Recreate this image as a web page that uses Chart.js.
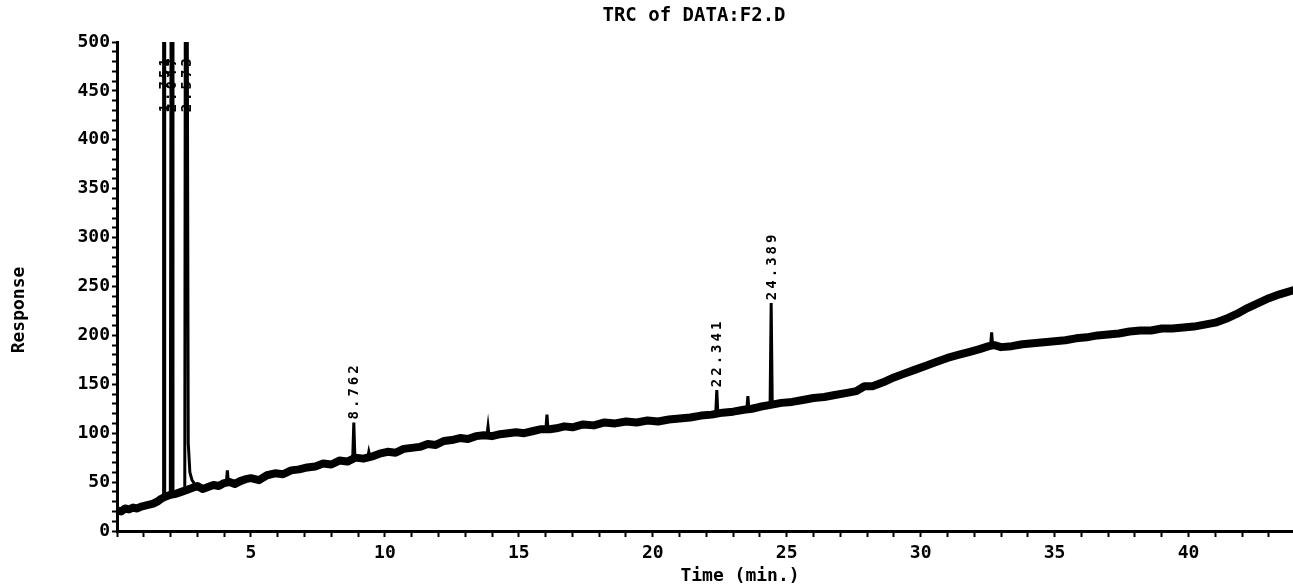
<!DOCTYPE html>
<html>
<head>
<meta charset="utf-8">
<script src="https://cdn.jsdelivr.net/npm/chart.js@4.4.1/dist/chart.umd.min.js"></script>
<style>
html,body{margin:0;padding:0;background:#fff;}
#wrap{width:1293px;height:586px;position:relative;}
</style>
</head>
<body>
<div id="wrap"><canvas id="c"></canvas></div>
<script>
// ---- data ----
const chartTitle = "TRC of DATA:F2.D";
const xAxisTitle = "Time (min.)";
const yAxisTitle = "Response";

const traceTime = [0.00,0.15,0.30,0.45,0.60,0.75,0.90,1.05,1.20,1.35,1.50,1.65,1.80,2.00,2.20,2.40,2.60,2.80,3.00,3.20,3.40,3.60,3.80,4.00,4.20,4.40,4.60,4.80,5.00,5.30,5.60,5.90,6.20,6.50,6.80,7.10,7.40,7.70,8.00,8.30,8.60,8.90,9.20,9.50,9.80,10.10,10.40,10.70,11.00,11.30,11.60,11.90,12.20,12.50,12.80,13.10,13.40,13.70,14.00,14.30,14.60,14.90,15.20,15.50,15.80,16.15,16.40,16.70,17.00,17.40,17.80,18.20,18.60,19.00,19.40,19.80,20.20,20.60,21.00,21.40,21.80,22.20,22.60,23.00,23.40,23.70,24.00,24.40,24.80,25.20,25.60,26.00,26.40,26.80,27.20,27.60,27.90,28.20,28.60,29.00,29.40,29.80,30.20,30.60,31.00,31.40,31.80,32.20,32.55,32.75,33.00,33.40,33.80,34.20,34.60,35.00,35.40,35.80,36.20,36.60,37.00,37.40,37.80,38.20,38.60,39.00,39.40,39.80,40.20,40.60,41.00,41.40,41.80,42.20,42.60,43.00,43.40,43.90];
const traceResp = [21,20,23,22,24,23,25,26,27,28,30,33,35,37,38,40,42,44,46,43,45,47,46,49,50,48,51,53,54,52,57,59,58,62,63,65,66,69,68,72,71,75,74,76,79,81,80,84,85,86,89,88,92,93,95,94,97,98,97,99,100,101,100,102,104,104,105,107,106,109,108,111,110,112,111,113,112,114,115,116,118,119,121,122,124,125,127,129,131,132,134,136,137,139,141,143,148,148,152,157,161,165,169,173,177,180,183,186,189,190,188,189,191,192,193,194,195,197,198,200,201,202,204,205,205,207,207,208,209,211,213,217,222,228,233,238,242,246];

// narrow peaks (null = gap between peaks); 560 is off-scale (clipped)
const peakTime = [1.72,1.74,1.76,1.78,null,1.99,2.02,2.06,2.09,null,2.53,2.55,2.62,2.66,2.72,2.80,2.95,null,4.08,4.12,4.16,null,9.36,9.40,9.44,null,13.81,13.85,13.89,null,16.01,16.05,16.09,null,22.35,22.39,22.43,null,23.51,23.55,23.59,null,24.38,24.42,24.46,null,32.61,32.65,32.69,null,8.80,8.84,8.88];
const peakResp = [33,560,560,34,null,37,560,560,38,null,41,560,560,90,60,52,46,null,49,62,49,null,75,81,76,null,98,107,97,null,104,119,104,null,119,144,120,null,124,138,125,null,129,233,130,null,189,203,189,null,75,111,75];

// retention-time annotations printed above the peaks
const annTime  = [1.75, 2.04, 2.58, 8.84, 22.39, 24.42];
const annText  = ["1.751","2.047","2.573","8.762","22.341","24.389"];
const annBase  = [425, 425, 425, 111, 144, 233];

const yTickStep = 10, yLabelStep = 50, yMax = 500;
const xTickStep = 1, xLabelStep = 5, xMax = 43.9;

const FONT = "'DejaVu Sans Mono', monospace";

const textPlugin = {
  id: 'texts',
  afterDraw(chart) {
    const ctx = chart.ctx, xs = chart.scales.x, ys = chart.scales.y;
    ctx.save();
    ctx.fillStyle = '#000';
    ctx.font = "bold 19px " + FONT;
    ctx.textAlign = 'center'; ctx.textBaseline = 'middle';
    ctx.fillText(chartTitle, 694, 16);
    ctx.font = "bold 18px " + FONT;
    ctx.fillText(xAxisTitle, 740, 576);
    ctx.save();
    ctx.translate(19, 310); ctx.rotate(-Math.PI/2);
    ctx.fillText(yAxisTitle, 0, 0);
    ctx.restore();
    // peak annotations, rotated, reading bottom-to-top
    ctx.font = "bold 14px " + FONT;
    try { ctx.letterSpacing = '3px'; } catch(e) {}
    ctx.textAlign = 'left';
    for (let i = 0; i < annTime.length; i++) {
      const px = xs.getPixelForValue(annTime[i]);
      const py = ys.getPixelForValue(annBase[i]) - 3;
      ctx.save();
      ctx.translate(px, py); ctx.rotate(-Math.PI/2);
      ctx.fillText(annText[i], 0, 1);
      ctx.restore();
    }
    ctx.restore();
  }
};

new Chart(document.getElementById('c'), {
  type: 'line',
  data: {
    datasets: [
      {
        data: traceTime.map((t,i)=>({x:t, y:traceResp[i]})),
        borderColor: '#000', borderWidth: 8, pointRadius: 0,
        borderJoinStyle: 'round', borderCapStyle: 'round', tension: 0
      },
      {
        data: peakTime.map((t,i)=>({x:t, y:peakResp[i]})),
        borderColor: '#000', borderWidth: 3, pointRadius: 0,
        borderJoinStyle: 'miter', tension: 0, spanGaps: false
      }
    ]
  },
  options: {
    responsive: true, maintainAspectRatio: false, animation: false,
    layout: { padding: { top: 42, left: 0, right: 0, bottom: 0 } },
    plugins: { legend: { display: false }, tooltip: { enabled: false }, title: { display: false } },
    scales: {
      x: {
        type: 'linear', min: 0, max: xMax,
        border: { display: true, color: '#000', width: 3 },
        grid: { display: true, drawOnChartArea: false, drawTicks: true, tickLength: 6, tickColor: '#000', tickWidth: 2 },
        ticks: {
          stepSize: xTickStep, autoSkip: false, maxRotation: 0, includeBounds: false,
          color: '#000', padding: 6, font: { family: FONT, size: 18, weight: 'bold' },
          callback: v => (v > 0 && Math.abs(v % xLabelStep) < 1e-9) ? String(v) : ''
        },
        afterFit: s => { s.height = 55; }
      },
      y: {
        type: 'linear', min: 0, max: yMax,
        border: { display: true, color: '#000', width: 3 },
        grid: { display: true, drawOnChartArea: false, drawTicks: true, tickLength: 5, tickColor: '#000', tickWidth: 2 },
        ticks: {
          stepSize: yTickStep, autoSkip: false, maxTicksLimit: 100,
          color: '#000', padding: 2, font: { family: FONT, size: 18, weight: 'bold' },
          callback: v => (Math.abs(v % yLabelStep) < 1e-9) ? String(v) : ''
        },
        afterFit: s => { s.width = 117; }
      }
    }
  },
  plugins: [textPlugin]
});
</script>
</body>
</html>
